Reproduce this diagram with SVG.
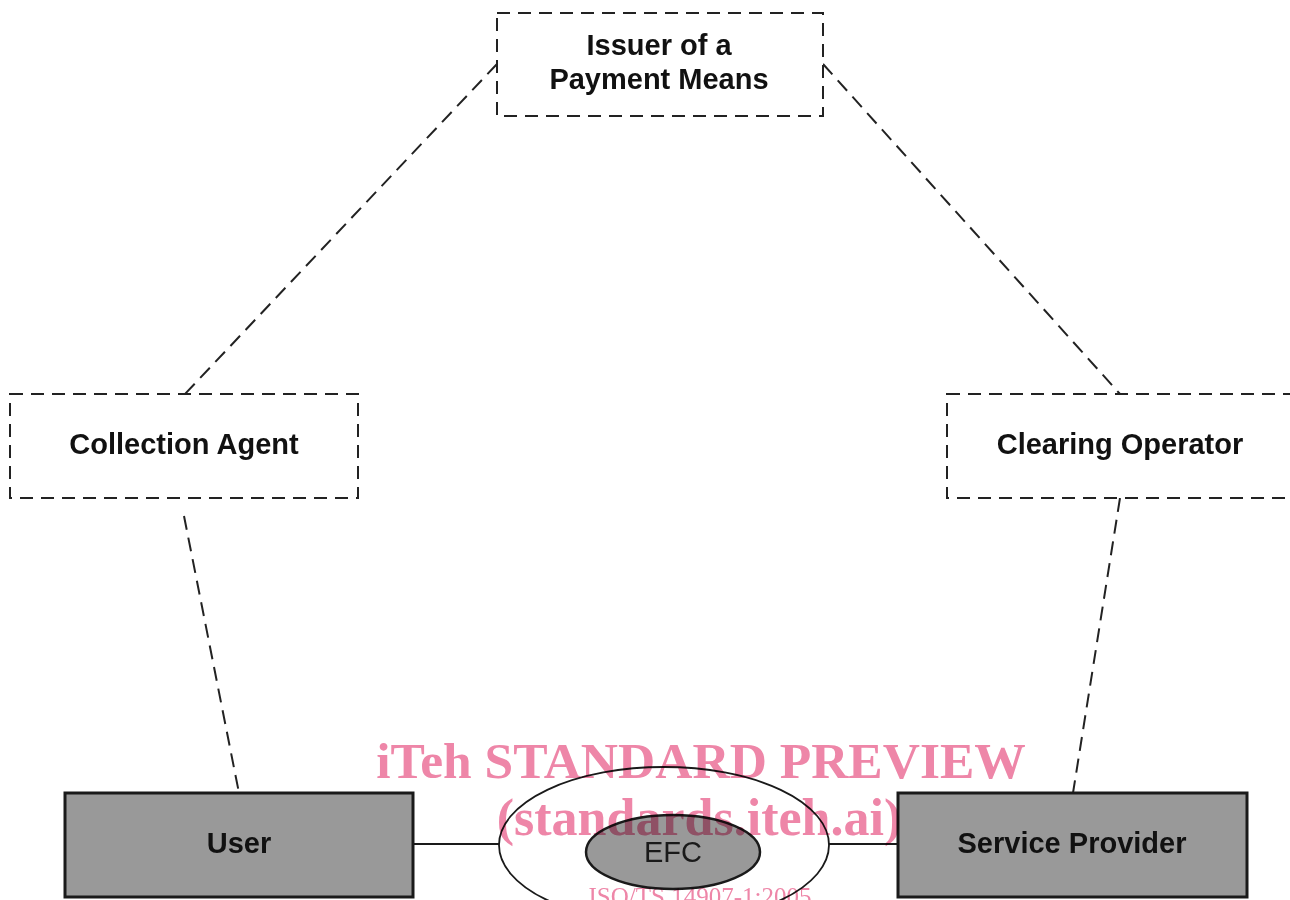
<svg xmlns="http://www.w3.org/2000/svg" width="1290" height="900" viewBox="0 0 1290 900">
  <style>
    .dash { fill: #ffffff; stroke: #222222; stroke-width: 2; stroke-dasharray: 13 8; }
    .conn { fill: none; stroke: #222222; stroke-width: 2; stroke-dasharray: 14 8; }
    .solid { fill: none; stroke: #1a1a1a; stroke-width: 2; }
    .actor { fill: #999999; stroke: #1a1a1a; stroke-width: 3; }
    .lbl { font-family: "Liberation Sans", Arial, sans-serif; font-weight: bold; font-size: 29px; fill: #111111; text-anchor: middle; }
    .mark { font-family: "Liberation Serif", "Times New Roman", serif; fill: #ee86a8; text-anchor: middle; mix-blend-mode: multiply; }
  </style>
  <rect width="1290" height="900" fill="#ffffff"/>

  <!-- connectors -->
  <g id="connectors">
    <line class="conn" x1="497" y1="64" x2="185" y2="394"/>
    <line class="conn" x1="823" y1="64" x2="1120" y2="394"/>
    <line class="conn" x1="184" y1="516" x2="239" y2="793"/>
    <line class="conn" x1="1120" y1="498" x2="1073" y2="793"/>
    <line class="solid" x1="413" y1="844" x2="499" y2="844"/>
    <line class="solid" x1="828" y1="844" x2="898" y2="844"/>
  </g>

  <g id="issuer">
    <rect class="dash" x="497" y="13" width="326" height="103"/>
    <text class="lbl" x="659" y="55">Issuer of a</text>
    <text class="lbl" x="659" y="89">Payment Means</text>
  </g>

  <g id="collection-agent">
    <rect class="dash" x="10" y="394" width="348" height="104"/>
    <text class="lbl" x="184" y="454">Collection Agent</text>
  </g>

  <g id="clearing-operator">
    <rect class="dash" x="947" y="394" width="348" height="104"/>
    <text class="lbl" x="1120" y="454">Clearing Operator</text>
  </g>

  <g id="user">
    <rect class="actor" x="65" y="793" width="348" height="104"/>
    <text class="lbl" x="239" y="853">User</text>
  </g>

  <g id="service-provider">
    <rect class="actor" x="898" y="793" width="349" height="104"/>
    <text class="lbl" x="1072" y="853">Service Provider</text>
  </g>

  <g id="efc">
    <ellipse cx="664" cy="845" rx="165" ry="78" fill="#ffffff" stroke="#1a1a1a" stroke-width="1.8"/>
    <ellipse cx="673" cy="852" rx="87" ry="37" fill="#999999" stroke="#1a1a1a" stroke-width="2.5"/>
    <text x="673" y="862" font-family="Liberation Sans, Arial, sans-serif" font-size="29" fill="#1a1a1a" text-anchor="middle">EFC</text>
  </g>

  <!-- publisher watermark -->
  <g id="watermark">
    <text class="mark" x="701" y="778" font-size="51.5" font-weight="bold">iTeh STANDARD PREVIEW</text>
    <text class="mark" x="699" y="835" font-size="52" font-weight="bold">(standards.iteh.ai)</text>
    <text class="mark" x="700" y="905" font-size="25">ISO/TS 14907-1:2005</text>
  </g>
</svg>
